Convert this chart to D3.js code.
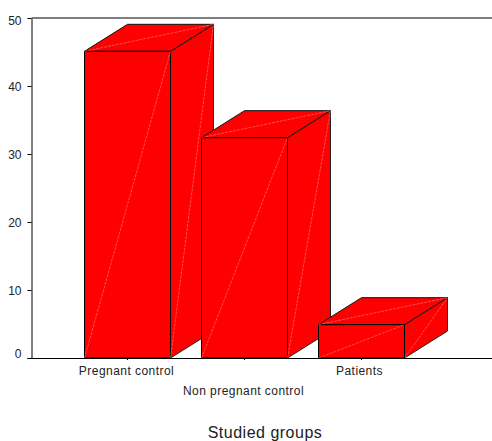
<!DOCTYPE html>
<html lang="en">
<head>
    <meta charset="utf-8">
    <title>Studied groups</title>
    <script src="https://cdn.jsdelivr.net/npm/d3@7"></script>
</head>
<style>
    body {
        margin: 0;
        padding: 0;
        background-color: #ffffff;
    }
    svg {
        display: block;
        font-family: "Liberation Sans", Arial, sans-serif;
    }
    .tick text {
        font-size: 12px;
        fill: #222;
    }
    .x-axis .tick text {
        letter-spacing: 0.45px;
    }
    .face {
        fill: #ff0000;
        stroke-linejoin: round;
    }
    .diag {
        stroke: #ff9a9a;
        stroke-width: 0.5;
        stroke-dasharray: 3 1;
        fill: none;
    }
    .axis-title {
        font-size: 16px;
        letter-spacing: 0.5px;
        fill: #222;
    }
</style>
<body>
    <svg width="492" height="441" id="chart"></svg>

    <script>
        var groups = ["Pregnant control", "Non pregnant control", "Patients"];
        var values = [45.1, 32.4, 4.9];
        var yTicks = [0, 10, 20, 30, 40, 50];

        var svg = d3.select("#chart");

        var margin = {top: 18, right: 492, bottom: 358, left: 31.5};
        // offset of the back face of each box
        var depthX = 43, depthY = -27;

        var x = d3.scaleBand()
            .domain(groups)
            .range([84.5, 404.5])
            .paddingInner(0.265);

        var y = d3.scaleLinear()
            .domain([0, 50])
            .range([margin.bottom, margin.top]);

        // y axis, the end labels sit a bit inside like in the original
        var yAxis = svg.append("g")
            .attr("transform", "translate(" + margin.left + ",0)")
            .call(d3.axisLeft(y).tickValues(yTicks).tickSize(4).tickPadding(6).tickSizeOuter(0));
        yAxis.select(".domain").attr("stroke", "#000").attr("stroke-width", 1);
        yAxis.selectAll(".tick text").attr("dy", function(d) {
            if (d === 0) return "-0.05em";
            if (d === 50) return "0.5em";
            return "0.4em";
        });

        // top frame line
        svg.append("line")
            .attr("x1", margin.left).attr("x2", margin.right)
            .attr("y1", margin.top).attr("y2", margin.top)
            .attr("stroke", "#555")
            .attr("stroke-width", 1.5);

        function poly(points) {
            return d3.line()(points) + "Z";
        }

        groups.forEach(function(name, i) {
            var x0 = x(name), x1 = x0 + x.bandwidth();
            var y0 = y(0), y1 = y(values[i]);
            var g = svg.append("g");

            var front = [[x0, y0], [x1, y0], [x1, y1], [x0, y1]];
            var side = [[x1, y0], [x1 + depthX, y0 + depthY], [x1 + depthX, y1 + depthY], [x1, y1]];
            var roof = [[x0, y1], [x1, y1], [x1 + depthX, y1 + depthY], [x0 + depthX, y1 + depthY]];

            g.append("path").attr("class", "face").attr("d", poly(side)).attr("stroke", "#222");
            g.append("path").attr("class", "face").attr("d", poly(roof)).attr("stroke", "#111");
            g.append("path").attr("class", "face").attr("d", poly(front)).attr("stroke", "#000");

            // pale seams where the faces were split in triangles
            g.append("path").attr("class", "diag").attr("d", d3.line()([front[0], front[2]]));
            g.append("path").attr("class", "diag").attr("d", d3.line()([side[0], side[2]]));
            g.append("path").attr("class", "diag").attr("d", d3.line()([roof[0], roof[2]]));
        });

        // x axis on top of the boxes, labels staggered on two rows
        var xAxis = svg.append("g")
            .attr("class", "x-axis")
            .attr("transform", "translate(0," + margin.bottom + ")")
            .call(d3.axisBottom(x).tickSize(2).tickPadding(6).tickSizeOuter(0));
        xAxis.select(".domain").attr("d", "M" + (margin.left - 4) + ",0.5H" + margin.right).attr("stroke", "#000");
        xAxis.selectAll(".tick text").attr("dy", function(d, i) {
            return i === 1 ? "2.45em" : "0.71em";
        }).attr("dx", function(d, i) {
            return i === 2 ? -2 : -1;
        });

        svg.append("text")
            .attr("class", "axis-title")
            .attr("x", 265)
            .attr("y", 438)
            .attr("text-anchor", "middle")
            .text("Studied groups");
    </script>
</body>
</html>
